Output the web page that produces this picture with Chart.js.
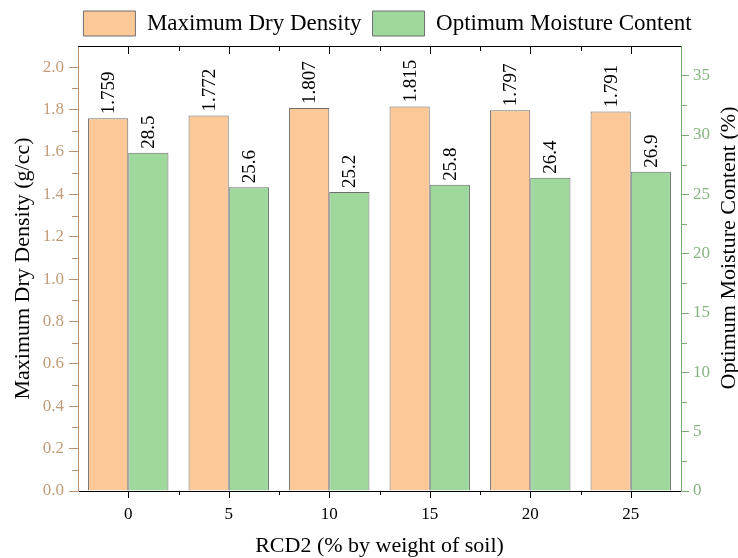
<!DOCTYPE html>
<html><head><meta charset="utf-8">
<script src="https://cdn.jsdelivr.net/npm/chart.js@4.4.1/dist/chart.umd.min.js"></script>
<style>html,body{margin:0;padding:0;background:#fff;overflow:hidden}#wrap{width:738px;height:558px}</style>
</head><body><div id="wrap"><canvas id="c" width="738" height="558"></canvas></div>
<script>
const categories = ['0', '5', '10', '15', '20', '25'];
const maxDryDensity = [1.759, 1.772, 1.807, 1.815, 1.797, 1.791];
const optimumMoisture = [28.5, 25.6, 25.2, 25.8, 26.4, 26.9];
const seriesNames = ['Maximum Dry Density', 'Optimum Moisture Content'];
const leftTicks = [0, 0.2, 0.4, 0.6, 0.8, 1.0, 1.2, 1.4, 1.6, 1.8, 2.0];
const leftMinorTicks = [0.1, 0.3, 0.5, 0.7, 0.9, 1.1, 1.3, 1.5, 1.7, 1.9];
const rightTicks = [0, 5, 10, 15, 20, 25, 30, 35];
const rightMinorTicks = [2.5, 7.5, 12.5, 17.5, 22.5, 27.5, 32.5];
const xTitle = 'RCD2 (% by weight of soil)';
const leftTitle = 'Maximum Dry Density (g/cc)';
const rightTitle = 'Optimum Moisture Content (%)';

const SERIF = "'Liberation Serif', 'Times New Roman', serif";
const BROWN_LINE = '#b8926f', BROWN_TEXT = '#c29c79';
const GREEN_LINE = '#7aaa74', GREEN_TEXT = '#86b481';

const extras = {
  id: 'extras',
  afterLayout(chart) {
    chart.legend.left += 37;
  },
  afterDatasetsDraw(chart) {
    const ctx = chart.ctx;
    ctx.save();
    ctx.fillStyle = '#000';
    ctx.font = '19px ' + SERIF;
    ctx.textAlign = 'left';
    ctx.textBaseline = 'middle';
    chart.data.datasets.forEach((ds, di) => {
      const meta = chart.getDatasetMeta(di);
      meta.data.forEach((el, i) => {
        const v = ds.data[i];
        const txt = di === 0 ? v.toFixed(3) : v.toFixed(1);
        ctx.save();
        ctx.translate(el.x + 1, el.y - 4);
        ctx.rotate(-Math.PI / 2);
        ctx.fillText(txt, 0, 0);
        ctx.restore();
      });
    });
    ctx.restore();
  },
  afterDraw(chart) {
    const ctx = chart.ctx;
    const a = chart.chartArea;
    const xs = chart.scales.x, yl = chart.scales.y, yr = chart.scales.y1;
    ctx.save();
    ctx.lineWidth = 1;
    // top frame
    ctx.strokeStyle = '#000';
    ctx.beginPath();
    ctx.moveTo(a.left, Math.round(a.top) + 0.5);
    ctx.lineTo(a.right, Math.round(a.top) + 0.5);
    ctx.stroke();
    // x ticks: major at centres, minor at boundaries
    ctx.beginPath();
    for (let i = 0; i < categories.length; i++) {
      const c = xs.getPixelForValue(i);
      const px = Math.round(c) + 0.5;
      ctx.moveTo(px, a.bottom); ctx.lineTo(px, a.bottom + 7);
      ctx.moveTo(px, a.top); ctx.lineTo(px, a.top + 8);
      if (i < categories.length - 1) {
        const m = Math.round((c + xs.getPixelForValue(i + 1)) / 2) + 0.5;
        ctx.moveTo(m, a.bottom); ctx.lineTo(m, a.bottom + 4);
        ctx.moveTo(m, a.top); ctx.lineTo(m, a.top + 5);
      }
    }
    ctx.stroke();
    // left minor ticks
    ctx.strokeStyle = BROWN_LINE;
    ctx.beginPath();
    leftMinorTicks.forEach(v => {
      const py = Math.round(yl.getPixelForValue(v)) + 0.5;
      ctx.moveTo(a.left - 6, py);
      ctx.lineTo(a.left, py);
    });
    ctx.stroke();
    // right minor ticks
    ctx.strokeStyle = GREEN_LINE;
    ctx.beginPath();
    rightMinorTicks.forEach(v => {
      const py = Math.round(yr.getPixelForValue(v)) + 0.5;
      ctx.moveTo(a.right, py);
      ctx.lineTo(a.right + 6, py);
    });
    ctx.stroke();
    // right title (reads bottom to top)
    ctx.fillStyle = '#000';
    ctx.font = '22px ' + SERIF;
    ctx.textAlign = 'center';
    ctx.textBaseline = 'middle';
    ctx.translate(729, 248);
    ctx.rotate(-Math.PI / 2);
    ctx.fillText(rightTitle, 0, 0);
    ctx.restore();
  }
};

new Chart(document.getElementById('c'), {
  type: 'bar',
  data: {
    labels: categories,
    datasets: [
      { label: seriesNames[0], data: maxDryDensity, yAxisID: 'y',
        backgroundColor: '#fcc898', borderColor: '#6e6e6e', borderWidth: 1,
        barPercentage: 1.0, categoryPercentage: 0.8 },
      { label: seriesNames[1], data: optimumMoisture, yAxisID: 'y1',
        backgroundColor: '#9ed89c', borderColor: '#6e6e6e', borderWidth: 1,
        barPercentage: 1.0, categoryPercentage: 0.8 }
    ]
  },
  options: {
    responsive: false,
    animation: false,
    devicePixelRatio: 1,
    layout: { padding: 0 },
    plugins: {
      legend: {
        position: 'top',
        labels: { boxWidth: 52, boxHeight: 25, padding: 11, color: '#000',
          font: { family: SERIF, size: 23 } }
      },
      tooltip: { enabled: false }
    },
    scales: {
      x: {
        type: 'category', offset: true,
        grid: { display: false },
        border: { display: true, color: '#000', width: 1 },
        ticks: { color: '#000', font: { family: SERIF, size: 17 }, padding: 5 },
        title: { display: true, text: xTitle, color: '#000',
          font: { family: SERIF, size: 22, lineHeight: 1 }, padding: { top: 0, bottom: 1 } },
        afterFit(s) { s.height = 67; }
      },
      y: {
        position: 'left', min: 0, max: 2.1,
        ticks: { stepSize: 0.2, color: BROWN_TEXT, padding: 5,
          font: { family: SERIF, size: 17 }, callback: v => Number(v).toFixed(1) },
        afterBuildTicks(s) { s.ticks = leftTicks.map(v => ({ value: v })); },
        grid: { display: true, drawOnChartArea: false, drawTicks: true, tickLength: 9,
          color: BROWN_LINE, tickColor: BROWN_LINE },
        border: { display: true, color: BROWN_LINE, width: 1 },
        title: { display: true, text: leftTitle, color: '#000',
          font: { family: SERIF, size: 22, lineHeight: 1 }, padding: { top: 12, bottom: 0 } },
        afterFit(s) { s.width = 78; }
      },
      y1: {
        position: 'right', min: 0, max: 37.5,
        ticks: { stepSize: 5, color: GREEN_TEXT, padding: 4,
          font: { family: SERIF, size: 17 }, callback: v => String(v) },
        afterBuildTicks(s) { s.ticks = rightTicks.map(v => ({ value: v })); },
        grid: { display: true, drawOnChartArea: false, drawTicks: true, tickLength: 8,
          color: GREEN_LINE, tickColor: GREEN_LINE },
        border: { display: true, color: GREEN_LINE, width: 1 },
        afterFit(s) { s.width = 57; }
      }
    }
  },
  plugins: [extras]
});
</script>
</body></html>
